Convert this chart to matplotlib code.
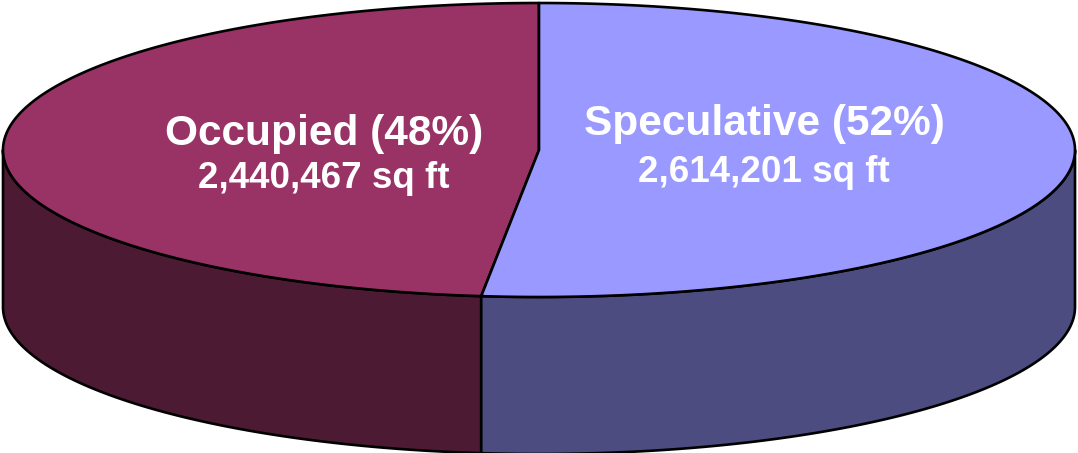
import numpy as np
import matplotlib
matplotlib.use("Agg")
import matplotlib.pyplot as plt
from matplotlib.patches import Polygon

# ---- data ----
categories = ["Occupied", "Speculative"]
percents = [48, 52]
sqft = [2440467, 2614201]
top_colors = ["#993366", "#9999FF"]
side_colors = ["#4C1A33", "#4C4C80"]

W, H = 1078, 453
fig = plt.figure(figsize=(W / 100, H / 100), dpi=100)
ax = fig.add_axes([0, 0, 1, 1])
ax.set_xlim(0, W)
ax.set_ylim(H, 0)
ax.axis("off")

cx, cy, rx, ry, depth = 539, 150, 536, 147, 157
lw = 1.9

def pt(theta_deg, dy=0.0):
    t = np.radians(theta_deg)
    return cx + rx * np.cos(t), cy - ry * np.sin(t) + dy

# angles from the actual areas: speculative clockwise from top, occupied the rest
total = sum(sqft)
spans = [v / total * 360 for v in sqft]
split = 90 - spans[1]            # end of speculative (clockwise from 90)
ranges = {
    "Speculative": (split, 90.0),
    "Occupied": (90.0, split + 360),
}

# sides (front half only: theta in [180, 360])
for name, sc in zip(categories, side_colors):
    a, b = ranges[name]
    lo = a % 360
    hi = b % 360 if (b % 360) > lo else b % 360 + 360
    segs = []
    for off in (0, 360, -360):
        s0, s1 = max(lo + off, 180), min(hi + off, 360)
        if s1 > s0:
            segs.append((s0, s1))
    for s0, s1 in segs:
        th = np.linspace(s0, s1, 200)
        top = [pt(t) for t in th]
        bot = [pt(t, depth) for t in th[::-1]]
        ax.add_patch(Polygon(top + bot, closed=True, facecolor=sc,
                             edgecolor="black", lw=lw, joinstyle="round"))

# tops
for name, tc in zip(categories, top_colors):
    a, b = ranges[name]
    th = np.linspace(a, b, 400)
    pts = [(cx, cy)] + [pt(t) for t in th]
    ax.add_patch(Polygon(pts, closed=True, facecolor=tc,
                         edgecolor="black", lw=lw, joinstyle="round"))

# labels
label_pos = {"Occupied": (324, 134, 178), "Speculative": (764, 124, 172)}
for name, p, s in zip(categories, percents, sqft):
    x, y1, y2 = label_pos[name]
    ax.text(x, y1, f"{name} ({p}%)", color="white", fontsize=30.5,
            fontweight="bold", family="Liberation Sans",
            ha="center", va="center")
    ax.text(x, y2, f"{s:,} sq ft", color="white", fontsize=26.5,
            fontweight="bold", family="Liberation Sans",
            ha="center", va="center")

fig.savefig("out.png", dpi=100, facecolor="white")
